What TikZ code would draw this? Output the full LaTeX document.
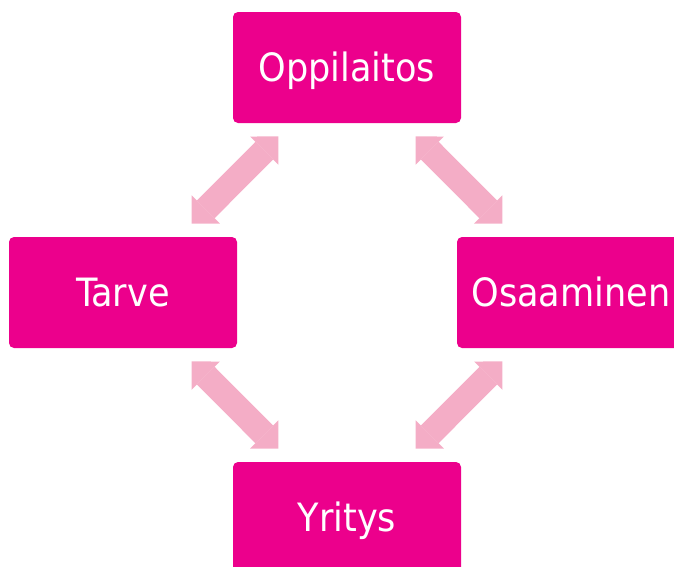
\documentclass[tikz,border=0pt]{standalone}
\usepackage{fontspec}
\newfontfamily\boxfont{DejaVu Sans Condensed}
\usetikzlibrary{arrows.meta}
\definecolor{boxpink}{HTML}{EC008C}
\definecolor{arrowpink}{HTML}{F4ADC6}

\begin{document}
\begin{tikzpicture}[x=1pt, y=1pt,
    box/.style={fill=boxpink, text=white, rounded corners=5pt, minimum width=228pt, minimum height=111pt,
        inner sep=0pt, outer sep=0pt, font=\boxfont\fontsize{39}{47}\selectfont, text height=28.4pt, text depth=0pt},
    twoway/.style={draw=arrowpink, line width=25pt,
        {Triangle[length=20pt,width=40pt,line width=0pt]}-{Triangle[length=20pt,width=40pt,line width=0pt]},
        shorten <=19pt, shorten >=19pt}]

    % Page size (the right and bottom boxes run off the page)
    \path[use as bounding box, clip] (0,0) rectangle (674,-566);

    % Boxes
    \foreach \name/\x/\y/\txt in {oppi/347/-67.5/Oppilaitos, tarve/123/-292.5/Tarve,
                                  osaa/571/-292.5/Osaaminen, yritys/347/-517.5/Yritys}
        \node[box] (\name) at (\x,\y) {\txt};

    % Two-way arrows between neighbouring boxes
    \foreach \a/\b in {oppi/tarve, oppi/osaa, tarve/yritys, osaa/yritys}
        \draw[twoway] (\a) -- (\b);
\end{tikzpicture}
\end{document}
